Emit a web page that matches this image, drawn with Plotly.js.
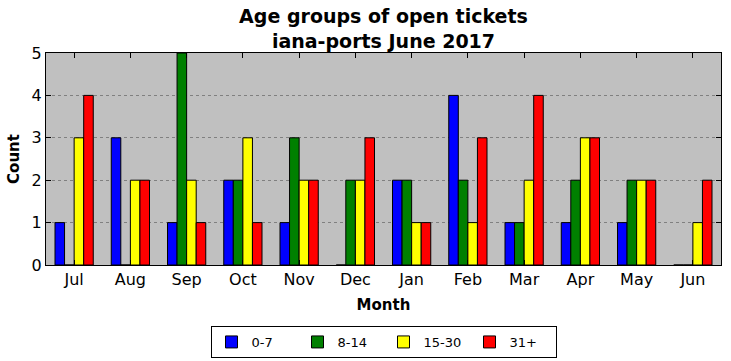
<!DOCTYPE html>
<html>
<head>
<meta charset="utf-8">
<script src="https://cdn.plot.ly/plotly-3.0.1.min.js"></script>
<style>html,body{margin:0;padding:0;background:#fff;}#chart{width:731px;height:361px;}</style>
</head>
<body>
<div id="chart"></div>
<script>
const months = ["Jul","Aug","Sep","Oct","Nov","Dec","Jan","Feb","Mar","Apr","May","Jun"];
const age0_7   = [1,3,1,2,1,0,2,4,1,1,1,0];
const age8_14  = [0,0,5,2,3,2,2,2,1,2,2,0];
const age15_30 = [3,2,2,3,2,2,1,1,2,3,2,1];
const age31p   = [4,2,1,1,2,3,1,3,4,3,2,2];
const seriesNames = ["0-7","8-14","15-30","31+"];
const seriesColors = ["#0000ff","#008000","#ffff00","#ff0000"];
const seriesValues = [age0_7, age8_14, age15_30, age31p];

const traces = seriesValues.map((vals, i) => ({
  type: "bar",
  name: seriesNames[i],
  x: months,
  y: vals,
  marker: {color: seriesColors[i], line: {color: "#000", width: 1}},
  hoverinfo: "x+y+name"
}));

const font = "DejaVu Sans, sans-serif";
const layout = {
  width: 731, height: 361,
  margin: {l: 46, r: 10, t: 53, b: 96},
  paper_bgcolor: "#ffffff",
  plot_bgcolor: "#c0c0c0",
  barmode: "group",
  bargap: 0.32,
  bargroupgap: 0,
  font: {family: font, color: "#000"},
  title: {
    text: "<b>Age groups of open tickets<br>iana-ports June 2017</b>",
    font: {family: font, size: 19, color: "#000"},
    x: 0.5, xref: "paper", xanchor: "center",
    y: 0.925, yref: "container", yanchor: "bottom",
    pad: {b: 4}
  },
  xaxis: {
    type: "category",
    range: [-0.5, 11.5],
    showline: true, linecolor: "#000", linewidth: 1, mirror: "ticks",
    ticks: "inside", ticklen: 5, tickcolor: "#000",
    tickfont: {family: font, size: 16, color: "#000"},
    showgrid: false,
    zeroline: false,
    title: {text: "<b>Month</b>", font: {family: font, size: 15, color: "#000"}, standoff: 11},
    automargin: false
  },
  yaxis: {
    range: [0, 5],
    dtick: 1,
    showline: true, linecolor: "#000", linewidth: 1, mirror: "ticks",
    ticks: "inside", ticklen: 5, tickcolor: "#000",
    tickfont: {family: font, size: 16, color: "#000"},
    showgrid: true, gridcolor: "#808080", griddash: "dot", gridwidth: 1,
    zeroline: false,
    title: {text: "<b>Count</b>", font: {family: font, size: 15, color: "#000"}, standoff: 8},
    automargin: false
  },
  legend: {
    orientation: "h",
    x: 0.5, xref: "paper", xanchor: "center",
    y: 0.097, yref: "container", yanchor: "top",
    bordercolor: "#000", borderwidth: 1,
    bgcolor: "#fff",
    font: {family: font, size: 13, color: "#000"},
    entrywidth: 41, entrywidthmode: "pixels",
    traceorder: "normal"
  },
  showlegend: true
};

Plotly.newPlot("chart", traces, layout, {displayModeBar: false, staticPlot: true});
</script>
</body>
</html>
